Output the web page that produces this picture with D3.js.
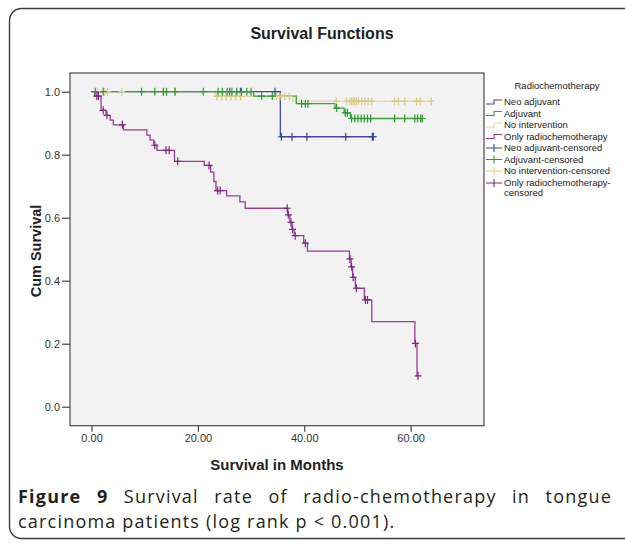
<!DOCTYPE html>
<html><head><meta charset="utf-8">
<script src="https://cdn.jsdelivr.net/npm/d3@7/dist/d3.min.js"></script>
<style>
html,body{margin:0;padding:0;background:#fff;}
svg{display:block;}
</style></head>
<body>
<svg id="c" width="625" height="544"></svg>
<script>
// ---------- data ----------
const seriesNames = ["Neo adjuvant","Adjuvant","No intervention","Only radiochemotherapy"];
const legendLabels = ["Neo adjuvant","Adjuvant","No intervention","Only radiochemotherapy",
  "Neo adjuvant-censored","Adjuvant-censored","No intervention-censored","Only radiochemotherapy-\ncensored"];
const xTicks = [0,20,40,60];
const yTicks = [0,0.2,0.4,0.6,0.8,1.0];

// step times and survival after each step
const neoStepT = [0, 35.5];
const neoStepS = [1.0, 0.857];
const neoCens  = [26.0, 28.0, 34.5, 35.7, 37.7, 40.5, 47.8, 52.8, 53.0];

const adjStepT = [0, 30.5, 38.5, 45.8, 47.5, 48.7];
const adjStepS = [1.0, 0.986, 0.962, 0.948, 0.933, 0.915];
const adjCens  = [0.7, 2.2, 9.4, 11.9, 13.5, 14.1, 15.7, 21.0, 23.8, 24.6, 25.5, 26.4, 27.3, 28.2, 29.2, 30.0,
                  32.0, 34.0, 39.5, 40.2, 40.7, 46.1, 47.7, 48.1,
                  48.9, 49.5, 50.1, 50.7, 51.3, 51.9, 52.5, 57.0, 58.9, 60.8, 61.3, 61.9, 62.2];

const noStepT = [0, 23.2, 37.8];
const noStepS = [1.0, 0.985, 0.970];
const noCens  = [1.1, 2.5, 3.0, 5.7, 13.5, 15.7, 23.6, 24.5, 25.3, 26.2, 27.1, 28.0, 34.8, 35.6, 36.3, 37.2,
                 46.0, 48.0, 48.6, 48.9, 49.2, 49.5, 49.8, 50.2, 50.8, 51.4, 52.0, 52.7, 57.0, 57.7, 58.9, 61.1, 61.8, 63.9];

const onlyStepT = [0, 0.6, 1.8, 2.7, 3.5, 4.1, 6.0, 10.4, 11.0, 11.7, 12.3, 15.6, 21.2, 22.4, 23.0, 23.4,
                   25.4, 27.9, 28.9, 36.9, 37.3, 37.7, 38.1, 39.9, 40.6, 48.5, 48.8, 49.1, 49.6, 51.3, 52.7, 60.8, 61.2];
const onlyStepS = [1.0, 0.986, 0.941, 0.925, 0.910, 0.895, 0.879, 0.862, 0.846, 0.830, 0.814, 0.779, 0.766, 0.745, 0.715, 0.686,
                   0.669, 0.650, 0.630, 0.609, 0.585, 0.563, 0.543, 0.519, 0.494, 0.469, 0.444, 0.411, 0.376, 0.339, 0.270, 0.201, 0.098];
const onlyCens  = [1.0, 1.3, 2.2, 2.9, 5.8, 11.9, 14.0, 14.6, 16.2, 22.1, 23.7, 24.2, 36.8, 37.0, 37.5, 37.8, 38.3,
                   40.2, 48.6, 48.9, 49.2, 49.8, 51.5, 51.9, 60.9, 61.4];

const colors = ["#3f4a9e","#3aa33a","#e2dba0","#9a3c9a"];
const censColors = ["#3a4498","#2f9a2f","#d6cd88","#7d2a7d"];

// ---------- layout ----------
const svg = d3.select("#c");
const sans = "Liberation Sans, Arial, sans-serif";
const x = d3.scaleLinear().domain([-4.05, 73.8]).range([70, 484]);
const y = d3.scaleLinear().domain([-0.0603, 1.0594]).range([425.7, 73]);

// outer frame
svg.append("rect").attr("x",9.5).attr("y",8.5).attr("width",660).attr("height",530)
  .attr("rx",12).attr("fill","#fff").attr("stroke","#3a3a3a").attr("stroke-width",1.4);

// title
svg.append("text").attr("x",322).attr("y",39).attr("text-anchor","middle")
  .attr("font-family",sans).attr("font-weight","bold")
  .attr("font-size",16).attr("fill","#222").text("Survival Functions");

// plot area
svg.append("rect").attr("x",70).attr("y",73).attr("width",414).attr("height",352.7)
  .attr("fill","#f3f2f3").attr("stroke","#4a4a4a").attr("stroke-width",1.2);

// axes
const yAxis = svg.append("g").attr("transform","translate(70,0)")
  .call(d3.axisLeft(y).tickValues(yTicks).tickFormat(d3.format(".1f")).tickSize(8).tickPadding(2));
const xAxis = svg.append("g").attr("transform","translate(0,425.7)")
  .call(d3.axisBottom(x).tickValues(xTicks).tickFormat(d3.format(".2f")).tickSize(6).tickPadding(3));
[yAxis,xAxis].forEach(a=>{
  a.select(".domain").remove();
  a.selectAll("line").attr("stroke","#444").attr("stroke-width",1.2);
  a.selectAll("text").attr("font-family",sans).attr("font-size",11).attr("fill","#333");
});

// axis labels
svg.append("text").attr("transform","translate(41,251) rotate(-90)").attr("text-anchor","middle")
  .attr("font-family",sans).attr("font-weight","bold")
  .attr("font-size",14.5).attr("fill","#222").text("Cum Survival");
svg.append("text").attr("x",277).attr("y",470).attr("text-anchor","middle")
  .attr("font-family",sans).attr("font-weight","bold")
  .attr("font-size",15).attr("fill","#222").text("Survival in Months");

// curves
const series = [
  {t:neoStepT, s:neoStepS, c:neoCens, i:0},
  {t:noStepT, s:noStepS, c:noCens, i:2},
  {t:adjStepT, s:adjStepS, c:adjCens, i:1},
  {t:onlyStepT, s:onlyStepS, c:onlyCens, i:3}
];
function survAt(d, t){ let v = d.s[0]; for(let k=0;k<d.t.length;k++){ if(d.t[k] <= t) v = d.s[k]; } return v; }
const line = d3.line().x(p=>x(p[0])).y(p=>y(p[1])).curve(d3.curveStepAfter);
const g = svg.append("g");
series.forEach(d=>{
  const pts = d.t.map((t,k)=>[t,d.s[k]]);
  const tEnd = Math.max(d3.max(d.c), d3.max(d.t));
  pts.push([tEnd, survAt(d,tEnd)]);
  g.append("path").attr("d",line(pts)).attr("fill","none").attr("stroke",colors[d.i]).attr("stroke-width",1.3);
});
series.forEach(d=>{
  d.c.forEach(t=>{
    const cx = x(t), cy = y(survAt(d,t));
    g.append("path").attr("d",`M${cx-3.5},${cy}H${cx+3.5}M${cx},${cy-4}V${cy+4}`)
      .attr("stroke",censColors[d.i]).attr("stroke-width",1.2).attr("fill","none");
  });
});

// legend
const lg = svg.append("g");
lg.append("text").attr("x",557).attr("y",89).attr("text-anchor","middle")
  .attr("font-family",sans).attr("font-size",9.5).attr("fill","#222")
  .text("Radiochemotherapy");
const ly = [102,113.5,125,136.5,148,159.5,171,183];
legendLabels.forEach((lab,k)=>{
  const cy = ly[k];
  if(k<4){
    lg.append("path").attr("d",`M486,${cy+2}H494V${cy-2}H502`).attr("fill","none")
      .attr("stroke",colors[k]).attr("stroke-width",1.1);
  } else {
    lg.append("path").attr("d",`M486,${cy}H502M494,${cy-4}V${cy+4}`).attr("fill","none")
      .attr("stroke",censColors[k-4]).attr("stroke-width",1.1);
  }
  const parts = lab.split("\n");
  parts.forEach((p,j)=>{
    lg.append("text").attr("x",504).attr("y",cy+3.3+j*9.5)
      .attr("font-family",sans).attr("font-size",9.5).attr("fill","#222").text(p);
  });
});

// caption
const capFont = "Open Sans, sans-serif";
const cap1 = svg.append("text").attr("x",18).attr("y",503).attr("font-family",capFont)
  .attr("font-size",18).attr("letter-spacing",1.2).attr("fill","#231f20");
cap1.append("tspan").attr("font-weight","bold").text("Figure 9");
cap1.append("tspan").text(" Survival rate of radio-chemotherapy in tongue");
const w = cap1.node().getComputedTextLength();
const nSpaces = 7;
cap1.attr("word-spacing", (612-18-w)/nSpaces);
svg.append("text").attr("x",18).attr("y",528).attr("font-family",capFont)
  .attr("font-size",18).attr("letter-spacing",1.2).attr("fill","#231f20").text("carcinoma patients (log rank p < 0.001).");
</script>
</body></html>
